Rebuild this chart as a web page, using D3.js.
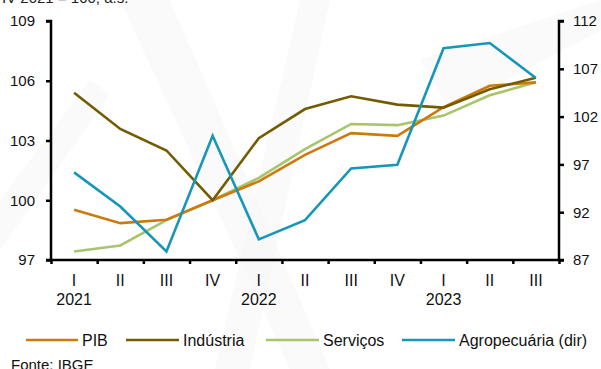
<!DOCTYPE html>
<html>
<head>
<meta charset="utf-8">
<script src="https://cdn.jsdelivr.net/npm/d3@7"></script>
<style>
  html, body { margin: 0; padding: 0; background: #ffffff; }
  svg { display: block; font-family: "Liberation Sans", Arial, sans-serif; }
</style>
</head>
<body>
<svg id="chart" width="601" height="369"></svg>
<script>
// Quarter labels and year labels on the category axis
const quarters = ["I", "II", "III", "IV", "I", "II", "III", "IV", "I", "II", "III"];
const years = ["2021", "", "", "", "2022", "", "", "", "2023", "", ""];

// Series (index, IV 2021 = 100, seasonally adjusted)
const pib        = [99.52, 98.85, 99.02, 100.0, 100.95, 102.28, 103.37, 103.23, 104.67, 105.75, 105.92];
const industria  = [105.40, 103.58, 102.50, 100.0, 103.12, 104.58, 105.22, 104.80, 104.65, 105.57, 106.15];
const servicos   = [97.43, 97.73, 99.00, 100.0, 101.12, 102.57, 103.83, 103.77, 104.25, 105.27, 105.92];
const agro       = [96.17, 92.60, 87.90, 100.0, 89.16, 91.17, 96.58, 96.97, 109.16, 109.70, 106.03];

// Axis ticks
const leftTicks = [97, 100, 103, 106, 109];
const rightTicks = [87, 92, 97, 102, 107, 112];

const seriesNames = ["PIB", "Indústria", "Serviços", "Agropecuária (dir)"];
const seriesColors = ["#CC7A0E", "#735C00", "#A9C46A", "#1697B7"];

const svg = d3.select("#chart");

// faint watermark streaks in the background
const bg = svg.append("g");
[
  [[120, 0], [170, 0], [330, 369], [290, 369]],
  [[300, 0], [330, 0], [250, 369], [215, 369]],
  [[420, 60], [601, 0], [601, 30], [450, 110]],
  [[0, 200], [90, 80], [110, 95], [0, 250]]
].forEach(p => {
  bg.append("polygon")
    .attr("points", p.map(d => d.join(",")).join(" "))
    .attr("fill", "#f6f6f6")
    .attr("opacity", 0.5);
});

const x0 = 51, x1 = 559, yTop = 21, yBot = 260;

const x = d3.scaleBand().domain(d3.range(quarters.length)).range([x0, x1]).padding(0);
const yL = d3.scaleLinear().domain([97, 109]).range([yBot, yTop]);
const yR = d3.scaleLinear().domain([87, 112]).range([yBot, yTop]);

const cx = i => x(i) + x.bandwidth() / 2;

// subtitle (runs off the top edge)
svg.append("text")
  .attr("x", 2).attr("y", 3)
  .attr("font-size", 15).attr("fill", "#222")
  .text("IV 2021 = 100, a.s.");

// Left axis
const axL = svg.append("g").attr("transform", `translate(${x0},0)`)
  .call(d3.axisLeft(yL).tickValues(leftTicks).tickSize(5).tickPadding(11).tickFormat(d3.format("d")));
// Right axis
const axR = svg.append("g").attr("transform", `translate(${x1},0)`)
  .call(d3.axisRight(yR).tickValues(rightTicks).tickSize(5).tickPadding(9).tickFormat(d3.format("d")));
// Bottom axis with ticks at category boundaries
const xb = d3.scaleLinear().domain([0, quarters.length]).range([x0, x1]);
const axB = svg.append("g").attr("transform", `translate(0,${yBot})`)
  .call(d3.axisBottom(xb).tickValues(d3.range(0, quarters.length + 1)).tickSize(4).tickFormat(""));

[axL, axR, axB].forEach(a => {
  a.select(".domain").attr("stroke", "#000").attr("stroke-width", 2.5);
  a.selectAll(".tick line").attr("stroke", "#000").attr("stroke-width", 2.5);
  a.selectAll(".tick text").attr("font-size", 15).attr("fill", "#111")
    .attr("font-family", "Liberation Sans, Arial, sans-serif");
});
axL.select(".domain").attr("d", `M-5,${yTop}H0V${yBot}H-5`);
axR.select(".domain").attr("d", `M5,${yTop}H0V${yBot}H5`);
axB.select(".domain").attr("d", `M${x0},0H${x1}`);

// Category labels
const catG = svg.append("g");
quarters.forEach((q, i) => {
  catG.append("text").attr("x", cx(i)).attr("y", 286)
    .attr("text-anchor", "middle").attr("font-size", 16).attr("fill", "#111").text(q);
  if (years[i]) {
    catG.append("text").attr("x", cx(i)).attr("y", 305)
      .attr("text-anchor", "middle").attr("font-size", 16).attr("fill", "#111").text(years[i]);
  }
});

// Lines
const lineL = d3.line().x((d, i) => cx(i)).y(d => yL(d));
const lineR = d3.line().x((d, i) => cx(i)).y(d => yR(d));

const plot = [
  { data: servicos, gen: lineL, color: seriesColors[2] },
  { data: pib, gen: lineL, color: seriesColors[0] },
  { data: industria, gen: lineL, color: seriesColors[1] },
  { data: agro, gen: lineR, color: seriesColors[3] }
];
plot.forEach(s => {
  svg.append("path")
    .attr("d", s.gen(s.data))
    .attr("fill", "none")
    .attr("stroke", s.color)
    .attr("stroke-width", 2.6)
    .attr("stroke-linejoin", "miter");
});

// Legend
const legendItems = [
  { name: seriesNames[0], color: seriesColors[0], x1: 26, x2: 78, tx: 82 },
  { name: seriesNames[1], color: seriesColors[1], x1: 126, x2: 179, tx: 183 },
  { name: seriesNames[2], color: seriesColors[2], x1: 266, x2: 319, tx: 323 },
  { name: seriesNames[3], color: seriesColors[3], x1: 402, x2: 455, tx: 459 }
];
const lg = svg.append("g");
legendItems.forEach(it => {
  lg.append("line").attr("x1", it.x1).attr("x2", it.x2).attr("y1", 340).attr("y2", 340)
    .attr("stroke", it.color).attr("stroke-width", 2.6);
  lg.append("text").attr("x", it.tx).attr("y", 345.5).attr("font-size", 16).attr("fill", "#111")
    .text(it.name);
});

// Source note
svg.append("text").attr("x", 11).attr("y", 370).attr("font-size", 15).attr("fill", "#111")
  .text("Fonte: IBGE");
</script>
</body>
</html>
